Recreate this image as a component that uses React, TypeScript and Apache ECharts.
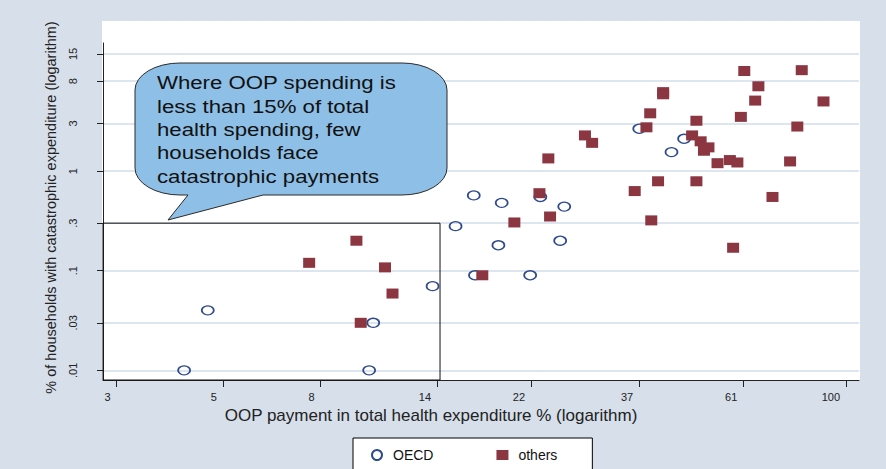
import React, { useEffect, useRef } from 'react';
import * as echarts from 'echarts';

// Axis ticks (log scales)
const xTickValues = [3, 5, 8, 14, 22, 37, 61, 100];
const xTickLabels = ['3', '5', '8', '14', '22', '37', '61', '100'];
const yTickValues = [0.01, 0.03, 0.1, 0.3, 1, 3, 8, 15];
const yTickLabels = ['.01', '.03', '.1', '.3', '1', '3', '8', '15'];

// Axis extents
const xMin = 2.81;
const xMax = 106.4;
const yMin = 0.008;
const yMax = 19.3;

// Highlighted box: OOP < ~14%, catastrophic < 0.3%
const boxX = 14.2;
const boxY = 0.3;

// [OOP share %, % households with catastrophic expenditure]
const oecdPoints: [number, number][] = [
  [4.15, 0.01], [4.65, 0.04], [10.3, 0.03], [10.1, 0.01], [13.7, 0.07],
  [15.3, 0.28], [16.8, 0.09], [18.8, 0.18], [16.7, 0.57], [19.1, 0.48],
  [23.0, 0.55], [25.8, 0.44], [25.3, 0.2], [21.9, 0.09], [37, 2.66],
  [45.9, 2.11], [43.2, 1.55],
];

const othersPoints: [number, number][] = [
  [9.5, 0.2], [7.57, 0.12], [10.9, 0.108], [11.3, 0.059], [9.7, 0.03],
  [17.4, 0.09], [61.3, 10.1], [80.8, 10.3], [65.6, 7.1], [41.5, 6.2],
  [41.5, 5.9], [64.6, 5.1], [89.7, 5.0], [39, 3.8], [48.7, 3.2],
  [60.3, 3.5], [38.3, 2.75], [79.1, 2.8], [28.5, 2.28], [29.5, 1.92],
  [47.7, 2.28], [49.7, 1.99], [51.6, 1.73], [50.5, 1.6], [23.9, 1.34],
  [53.9, 1.2], [57.2, 1.29], [59.3, 1.22], [76.4, 1.25], [40.5, 0.79],
  [48.7, 0.79], [36.2, 0.63], [70.2, 0.55], [22.9, 0.6], [24.1, 0.35],
  [20.3, 0.305], [39.2, 0.32], [58.1, 0.17],
];

const calloutLines = [
  'Where OOP spending is',
  'less than 15% of total',
  'health spending, few',
  'households face',
  'catastrophic payments',
];

const FONT = '"Liberation Sans", Arial, sans-serif';

function pickLabel(values: number[], labels: string[], v: number): string {
  let best = 0;
  let bestDiff = Infinity;
  values.forEach((t, i) => {
    const d = Math.abs(Math.log(t) - Math.log(v));
    if (d < bestDiff) { bestDiff = d; best = i; }
  });
  return labels[best];
}

const bubblePath =
  'M180,63 L402,63 A45,27 0 0 1 447,90 L447,168 A45,27 0 0 1 402,195 ' +
  'L263,195 L168,220 L188,195 L180,195 A45,27 0 0 1 135,168 L135,90 A45,27 0 0 1 180,63 Z';

export default function App() {
  const ref = useRef<HTMLDivElement>(null);

  useEffect(() => {
    if (!ref.current) return;
    echarts.graphic.registerShape('calloutBubble', echarts.graphic.extendPath(bubblePath, {}));
    const chart = echarts.init(ref.current, null, { renderer: 'svg' });

    const axisColor = '#222';
    const option: any = {
      animation: false,
      backgroundColor: '#d6dfea',
      grid: { left: 103, right: 27, top: 43, bottom: 89, containLabel: false },
      xAxis: {
        type: 'log',
        logBase: 10,
        min: xMin,
        max: xMax,
        axisLine: { show: true, onZero: false, lineStyle: { color: axisColor, width: 1 } },
        axisTick: { show: true, customValues: xTickValues, length: 7, lineStyle: { color: axisColor } },
        axisLabel: {
          customValues: xTickValues,
          formatter: (v: number) => pickLabel(xTickValues, xTickLabels, v),
          fontSize: 11,
          fontFamily: FONT,
          color: axisColor,
          margin: 11,
          align: 'right',
          padding: [0, 6, 0, 0],
        },
        splitLine: { show: false },
        minorTick: { show: false },
        name: 'OOP payment in total health expenditure % (logarithm)',
        nameLocation: 'middle',
        nameGap: 27,
        nameTextStyle: { fontSize: 17, fontFamily: FONT, color: axisColor, padding: [0, 100, 0, 0] },
      },
      yAxis: {
        type: 'log',
        logBase: 10,
        min: yMin,
        max: yMax,
        axisLine: { show: true, onZero: false, lineStyle: { color: axisColor, width: 1 } },
        axisTick: { show: true, customValues: yTickValues, length: 6, lineStyle: { color: axisColor } },
        axisLabel: {
          customValues: yTickValues,
          formatter: (v: number) => pickLabel(yTickValues, yTickLabels, v),
          fontSize: 11,
          fontFamily: FONT,
          color: axisColor,
          rotate: 90,
          margin: 25,
        },
        splitLine: { show: true, lineStyle: { color: '#d2ddeb', width: 1.5 } },
        name: '% of households with catastrophic expenditure (logarithm)',
        nameLocation: 'middle',
        nameGap: 45,
        nameTextStyle: { fontSize: 14.5, fontFamily: FONT, color: axisColor, padding: [0, 0, 0, 8] },
      },
      legend: {
        left: 353,
        top: 438,
        orient: 'horizontal',
        padding: [10, 35, 30, 18],
        itemGap: 63,
        itemWidth: 12,
        itemHeight: 10,
        backgroundColor: '#ffffff',
        borderColor: '#000000',
        borderWidth: 1,
        textStyle: { fontSize: 14, fontFamily: FONT, color: '#111', padding: [0, 0, 0, 5] },
        data: [
          { name: 'OECD', icon: 'circle' },
          { name: 'others', icon: 'rect' },
        ],
      },
      graphic: [
        {
          type: 'rect',
          z: -10,
          silent: true,
          shape: { x: 102, y: 21, width: 758, height: 359 },
          style: { fill: '#ffffff' },
        },
        {
          type: 'calloutBubble',
          x: 0,
          y: 0,
          z: 100,
          silent: true,
          style: { fill: '#8ebfe6', stroke: '#2a2a2a', lineWidth: 1 },
        },
        {
          type: 'text',
          x: 157,
          y: 71.5,
          z: 101,
          scaleX: 1.2,
          silent: true,
          style: {
            text: calloutLines.join('\n'),
            fontSize: 18.5,
            lineHeight: 23.3,
            fontFamily: FONT,
            fill: '#111',
            align: 'left',
            verticalAlign: 'top',
          },
        },
      ],
      series: [
        {
          name: 'OECD',
          type: 'scatter',
          z: 3,
          data: oecdPoints,
          symbol: 'circle',
          symbolSize: [12, 9],
          itemStyle: { color: 'rgba(255,255,255,0)', borderColor: '#2f4b8c', borderWidth: 1.5, opacity: 1 },
        },
        {
          name: 'others',
          type: 'scatter',
          z: 4,
          data: othersPoints,
          symbol: 'rect',
          symbolSize: [12, 10],
          itemStyle: { color: '#8b3641', opacity: 1 },
          markArea: {
            silent: true,
            label: { show: false },
            itemStyle: { color: 'rgba(0,0,0,0)', borderColor: '#111', borderWidth: 1 },
            data: [[{ xAxis: xMin, yAxis: boxY }, { xAxis: boxX, yAxis: yMin }]],
          },
        },
      ],
    };

    chart.setOption(option);
    return () => chart.dispose();
  }, []);

  return (
    <div
      ref={ref}
      style={{ position: 'absolute', left: 0, top: 0, width: 886, height: 469 }}
    />
  );
}
